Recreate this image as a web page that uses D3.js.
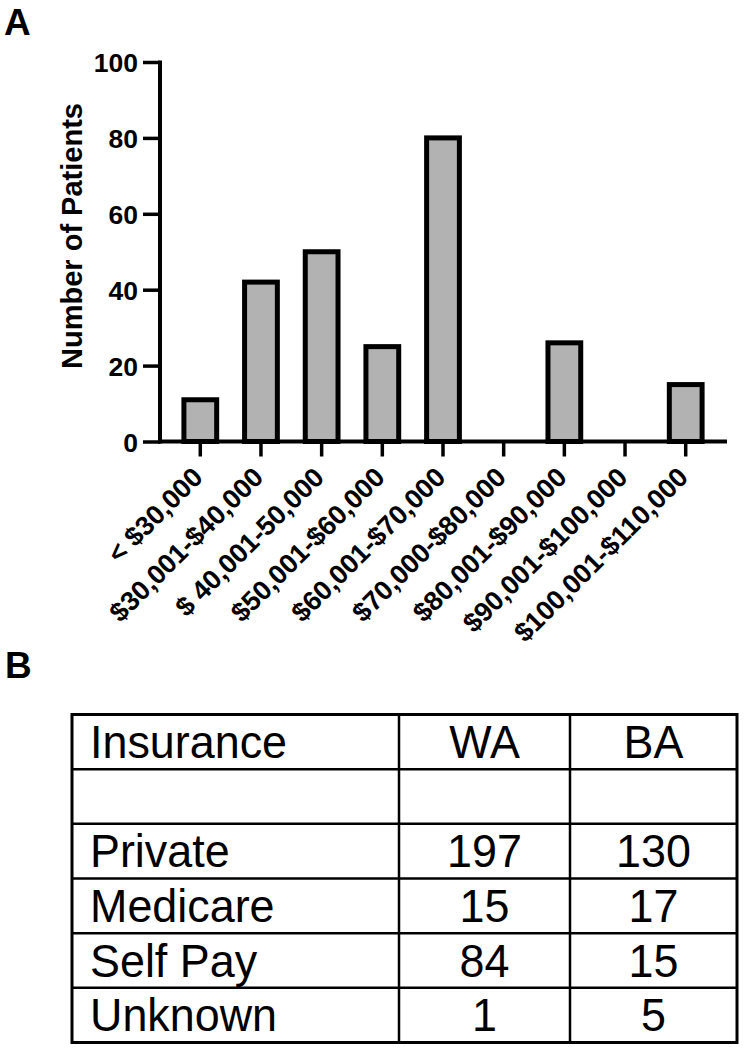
<!DOCTYPE html>
<html>
<head>
<meta charset="utf-8">
<script src="https://cdn.jsdelivr.net/npm/d3@7"></script>
<style>
    body { margin: 0; background: #fff; }
    svg { display: block; }
</style>
</head>
<body>
<div id="figure"></div>
<script>
// panel A: household income
const incomeBrackets = ['< $30,000', '$30,001-$40,000', '$ 40,001-50,000', '$50,001-$60,000',
    '$60,001-$70,000', '$70,000-$80,000', '$80,001-$90,000', '$90,001-$100,000', '$100,001-$110,000'];
const patientCounts = [11, 42, 50, 25, 80, 0, 26, 0, 15];
const yTickValues = [0, 20, 40, 60, 80, 100];

// panel B: insurance table
const tableHeader = ['Insurance', 'WA', 'BA'];
const insuranceTypes = ['', 'Private', 'Medicare', 'Self Pay', 'Unknown'];
const waCounts = [null, 197, 15, 84, 1];
const baCounts = [null, 130, 17, 15, 5];

const font = '"Liberation Sans", Arial, sans-serif';

const svg = d3.select('#figure').append('svg')
    .attr('width', 744)
    .attr('height', 1050);

drawIncomeChart();
drawInsuranceTable();

function drawIncomeChart() {
    svg.append('text')
        .attr('x', 4)
        .attr('y', 35)
        .attr('font-family', font)
        .attr('font-weight', 'bold')
        .attr('font-size', 37)
        .text('A');

    const x = d3.scaleBand()
        .domain(incomeBrackets)
        .range([160, 726])
        .paddingInner(0.46)
        .paddingOuter(0.394);

    const y = d3.scaleLinear()
        .domain([0, 100])
        .range([441.5, 62]);

    const chart = svg.append('g');

    // bars (empty brackets draw nothing)
    chart.selectAll('rect')
        .data(patientCounts.map((v, i) => ({ bracket: incomeBrackets[i], value: v })).filter(d => d.value > 0))
        .enter()
        .append('rect')
        .attr('x', d => x(d.bracket))
        .attr('y', d => y(d.value))
        .attr('width', x.bandwidth())
        .attr('height', d => y(0) - y(d.value))
        .attr('fill', '#b2b2b2')
        .attr('stroke', '#000')
        .attr('stroke-width', 5);

    const yAxis = d3.axisLeft(y)
        .tickValues(yTickValues)
        .tickSize(17)
        .tickPadding(5)
        .tickSizeOuter(0);
    const yAxisG = chart.append('g')
        .attr('transform', 'translate(160, 0)')
        .call(yAxis);

    const xAxis = d3.axisBottom(x)
        .tickSize(15)
        .tickSizeOuter(0)
        .tickFormat('');
    const xAxisG = chart.append('g')
        .attr('transform', 'translate(0, ' + y(0) + ')')
        .call(xAxis);

    [yAxisG, xAxisG].forEach(g => {
        g.select('.domain').attr('stroke', '#000').attr('stroke-width', 4);
        g.selectAll('.tick line').attr('stroke', '#000').attr('stroke-width', 3.5);
    });
    xAxisG.select('.domain').attr('d', 'M158,0H727');
    yAxisG.select('.domain').attr('d', 'M0,' + (y(100) - 1.5) + 'V' + (y(0) + 2));

    yAxisG.selectAll('.tick text')
        .attr('font-family', font)
        .attr('font-weight', 'bold')
        .attr('font-size', 26.5)
        .attr('fill', '#000')
        .attr('dy', '0.36em');

    // rotated bracket labels
    chart.append('g')
        .selectAll('text')
        .data(incomeBrackets)
        .enter()
        .append('text')
        .attr('transform', d => 'translate(' + (x(d) + x.bandwidth() / 2 + 4) + ', 479) rotate(-45)')
        .attr('text-anchor', 'end')
        .attr('font-family', font)
        .attr('font-weight', 'bold')
        .attr('font-size', 27)
        .text(d => d);

    svg.append('text')
        .attr('transform', 'translate(82, 236) rotate(-90)')
        .attr('text-anchor', 'middle')
        .attr('font-family', font)
        .attr('font-weight', 'bold')
        .attr('font-size', 29)
        .text('Number of Patients');
}

function drawInsuranceTable() {
    svg.append('text')
        .attr('x', 5)
        .attr('y', 678)
        .attr('font-family', font)
        .attr('font-weight', 'bold')
        .attr('font-size', 37)
        .text('B');

    const colEdges = [72, 399, 570, 737];
    const rows = [tableHeader].concat(insuranceTypes.map((t, i) => [t, waCounts[i], baCounts[i]]));

    const rowY = d3.scaleBand()
        .domain(d3.range(rows.length))
        .range([714.5, 1042.5]);

    const table = svg.append('g');

    // grid
    rowY.domain().slice(1).forEach(i => {
        table.append('line')
            .attr('x1', colEdges[0]).attr('x2', colEdges[3])
            .attr('y1', rowY(i)).attr('y2', rowY(i))
            .attr('stroke', '#000').attr('stroke-width', 2.5);
    });
    [colEdges[1], colEdges[2]].forEach(cx => {
        table.append('line')
            .attr('x1', cx).attr('x2', cx)
            .attr('y1', rowY.range()[0]).attr('y2', rowY.range()[1])
            .attr('stroke', '#000').attr('stroke-width', 2.5);
    });
    table.append('rect')
        .attr('x', colEdges[0])
        .attr('y', rowY.range()[0])
        .attr('width', colEdges[3] - colEdges[0])
        .attr('height', rowY.range()[1] - rowY.range()[0])
        .attr('fill', 'none')
        .attr('stroke', '#000')
        .attr('stroke-width', 3);

    const cells = table.selectAll('g.row')
        .data(rows)
        .enter()
        .append('g')
        .attr('class', 'row')
        .attr('transform', (d, i) => 'translate(0, ' + (rowY(i) + rowY.bandwidth() / 2 + 16) + ')');

    cells.append('text')
        .attr('transform', 'translate(' + (colEdges[0] + 18) + ', 0) scale(0.955, 1)')
        .attr('font-family', font)
        .attr('font-size', 47)
        .text(d => d[0]);

    [1, 2].forEach(c => {
        cells.append('text')
            .attr('transform', 'translate(' + ((colEdges[c] + colEdges[c + 1]) / 2) + ', 0) scale(0.955, 1)')
            .attr('text-anchor', 'middle')
            .attr('font-family', font)
            .attr('font-size', 47)
            .text(d => d[c] == null ? '' : d[c]);
    });
}
</script>
</body>
</html>
